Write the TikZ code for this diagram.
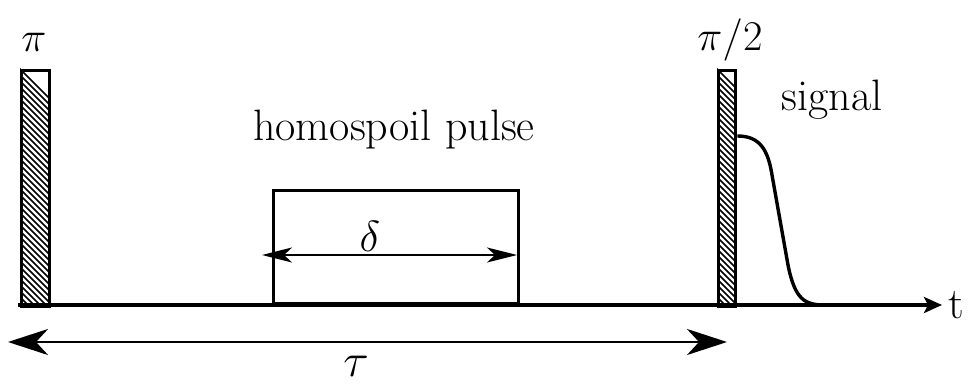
\documentclass[tikz,border=0pt]{standalone}
\usepackage{graphicx}
\usetikzlibrary{arrows.meta}
\newcommand{\bigsym}[2]{\scalebox{#1}{\fontsize{24}{28}\selectfont$#2$}}
\begin{document}
\begin{tikzpicture}[x=1pt,y=-1pt,
  lbl/.style={inner sep=0pt,font=\rmfamily\fontsize{44}{48}\selectfont},
  pulsebox/.style={draw,line width=3.4pt},
  thick line/.style={line width=3.4pt},
  hatch/.style={line width=1.6pt}]
\useasboundingbox (0,0) rectangle (973,387);
% pulses
\foreach \xa/\xb/\nm in {20/48/pa,717/734/pb}{
  \begin{scope}
    \clip (\xa,69) rectangle (\xb,305);
    \foreach \k in {0,6,...,280}{
      \draw[hatch] (\xa-30,69+\k-30) -- ++(60,60);
    }
  \end{scope}
  \node[pulsebox,minimum width=\xb-\xa,minimum height=236,inner sep=0pt,anchor=north west] (\nm) at (\xa,69) {};
}
\node[lbl] (pilab) at (34,42) {\bigsym{1.7}{\pi}};
\node[lbl] (pi2lab) at (730,40) {\bigsym{1.7}{\pi/2}};
\node[lbl] (sig) at (832,100) {signal};
\node[lbl] (homo) at (394,130) {homospoil pulse};
% homospoil box
\node[pulsebox,minimum width=245,minimum height=113,inner sep=0pt,anchor=south west] (hbox) at (272,305) {};
\coordinate (dl) at (262,255);
\coordinate (dr) at (517,255);
\draw[line width=2pt,{Stealth[length=30pt,width=15pt,inset=8pt]}-{Stealth[length=30pt,width=15pt,inset=8pt]}] (dl) -- (dr);
\node[lbl] (delta) at (370,236) {\bigsym{1.75}{\delta}};
% axis
\coordinate (ax0) at (18,305);
\coordinate (ax1) at (942,305);
\draw[thick line,-{Stealth[length=18pt,width=16pt,inset=4pt]}] (ax0) -- (ax1);
\node[lbl,anchor=west] (t) at (948,305) {t};
% signal
\draw[line width=3.4pt] (pb.east |- 0,136) .. controls (760,136) and (768,150) .. (772,175)
  -- (788,265) .. controls (795,300) and (805,305) .. (825,305);
% tau arrow
\coordinate (tl) at (8,342);
\coordinate (tr) at (727,342);
\draw[line width=2.8pt,{Stealth[length=40pt,width=26pt,inset=12pt]}-{Stealth[length=40pt,width=26pt,inset=12pt]}] (tl) -- (tr);
\node[lbl] (tau) at (356,366) {\bigsym{1.9}{\tau}};
\end{tikzpicture}
\end{document}
